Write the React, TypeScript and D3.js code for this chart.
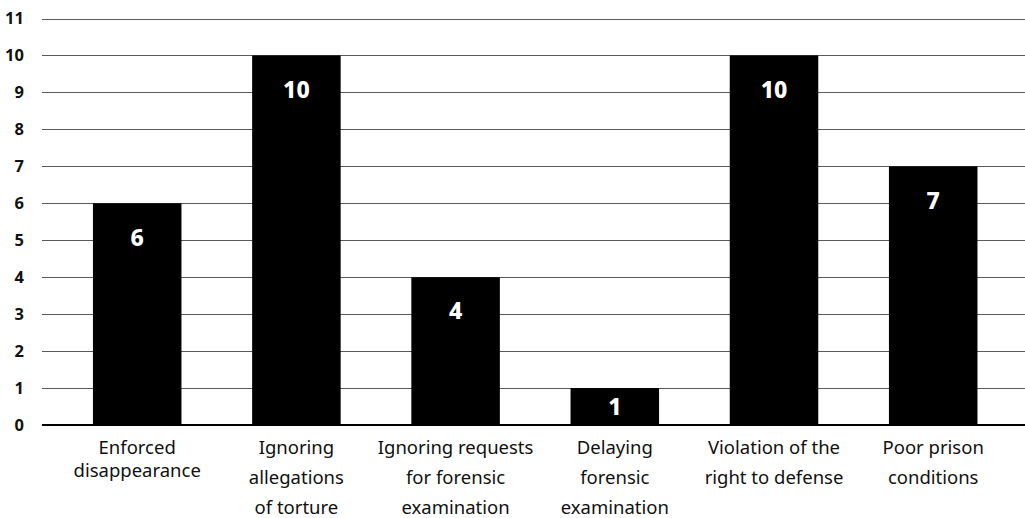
import React from "react";
import * as d3 from "d3";

const categories: string[][] = [
  ["Enforced", "disappearance"],
  ["Ignoring", "allegations", "of torture"],
  ["Ignoring requests", "for forensic", "examination"],
  ["Delaying", "forensic", "examination"],
  ["Violation of the", "right to defense"],
  ["Poor prison", "conditions"],
];
const values: number[] = [6, 10, 4, 1, 10, 7];
const yTicks: number[] = [0, 1, 2, 3, 4, 5, 6, 7, 8, 9, 10, 11];

const W = 1025;
const H = 518;
const LINE_GAP = [23, 30, 30, 30, 30, 30];
const FONT = "'Noto Sans', 'Open Sans', sans-serif";

export default function App() {
  const y = d3.scaleLinear().domain([0, 11]).range([425, 18.5]);
  const x = d3
    .scaleBand<number>()
    .domain(d3.range(values.length))
    .range([57.6, 1012.8])
    .paddingInner(0.444)
    .paddingOuter(0.222);
  const bw = x.bandwidth();

  return (
    <svg
      width={W}
      height={H}
      style={{ position: "absolute", left: 0, top: 0, background: "#fff" }}
      fontFamily={FONT}
    >
      {yTicks.map((t) => (
        <g key={t}>
          {t > 0 && (
            <line x1={42} x2={W} y1={Math.round(y(t)) + 0.5} y2={Math.round(y(t)) + 0.5} stroke="#5a5a5a" strokeWidth={1} />
          )}
          <text
            x={24}
            y={y(t)}
            dy="0.36em"
            textAnchor="end"
            fontSize={16.5}
            fontWeight={700}
            fill="#111"
          >
            {t}
          </text>
        </g>
      ))}
      {values.map((v, i) => {
        const x0 = x(i)!;
        const top = y(v);
        const labelY = Math.min(top + 34, (top + y(0)) / 2);
        return (
          <g key={i}>
            <rect x={x0} y={top} width={bw} height={y(0) - top} fill="#000" />
            <text
              x={x0 + bw / 2}
              y={labelY}
              dy="0.36em"
              textAnchor="middle"
              fontSize={23}
              fontWeight={800}
              fill="#fff"
            >
              {v}
            </text>
            {categories[i].map((line, j) => (
              <text
                key={j}
                x={x0 + bw / 2}
                y={447 + j * LINE_GAP[i]}
                dy="0.36em"
                textAnchor="middle"
                fontSize={18.5}
                fill="#111"
              >
                {line}
              </text>
            ))}
          </g>
        );
      })}
      <line x1={42} x2={W} y1={425} y2={425} stroke="#000" strokeWidth={2} />
    </svg>
  );
}
